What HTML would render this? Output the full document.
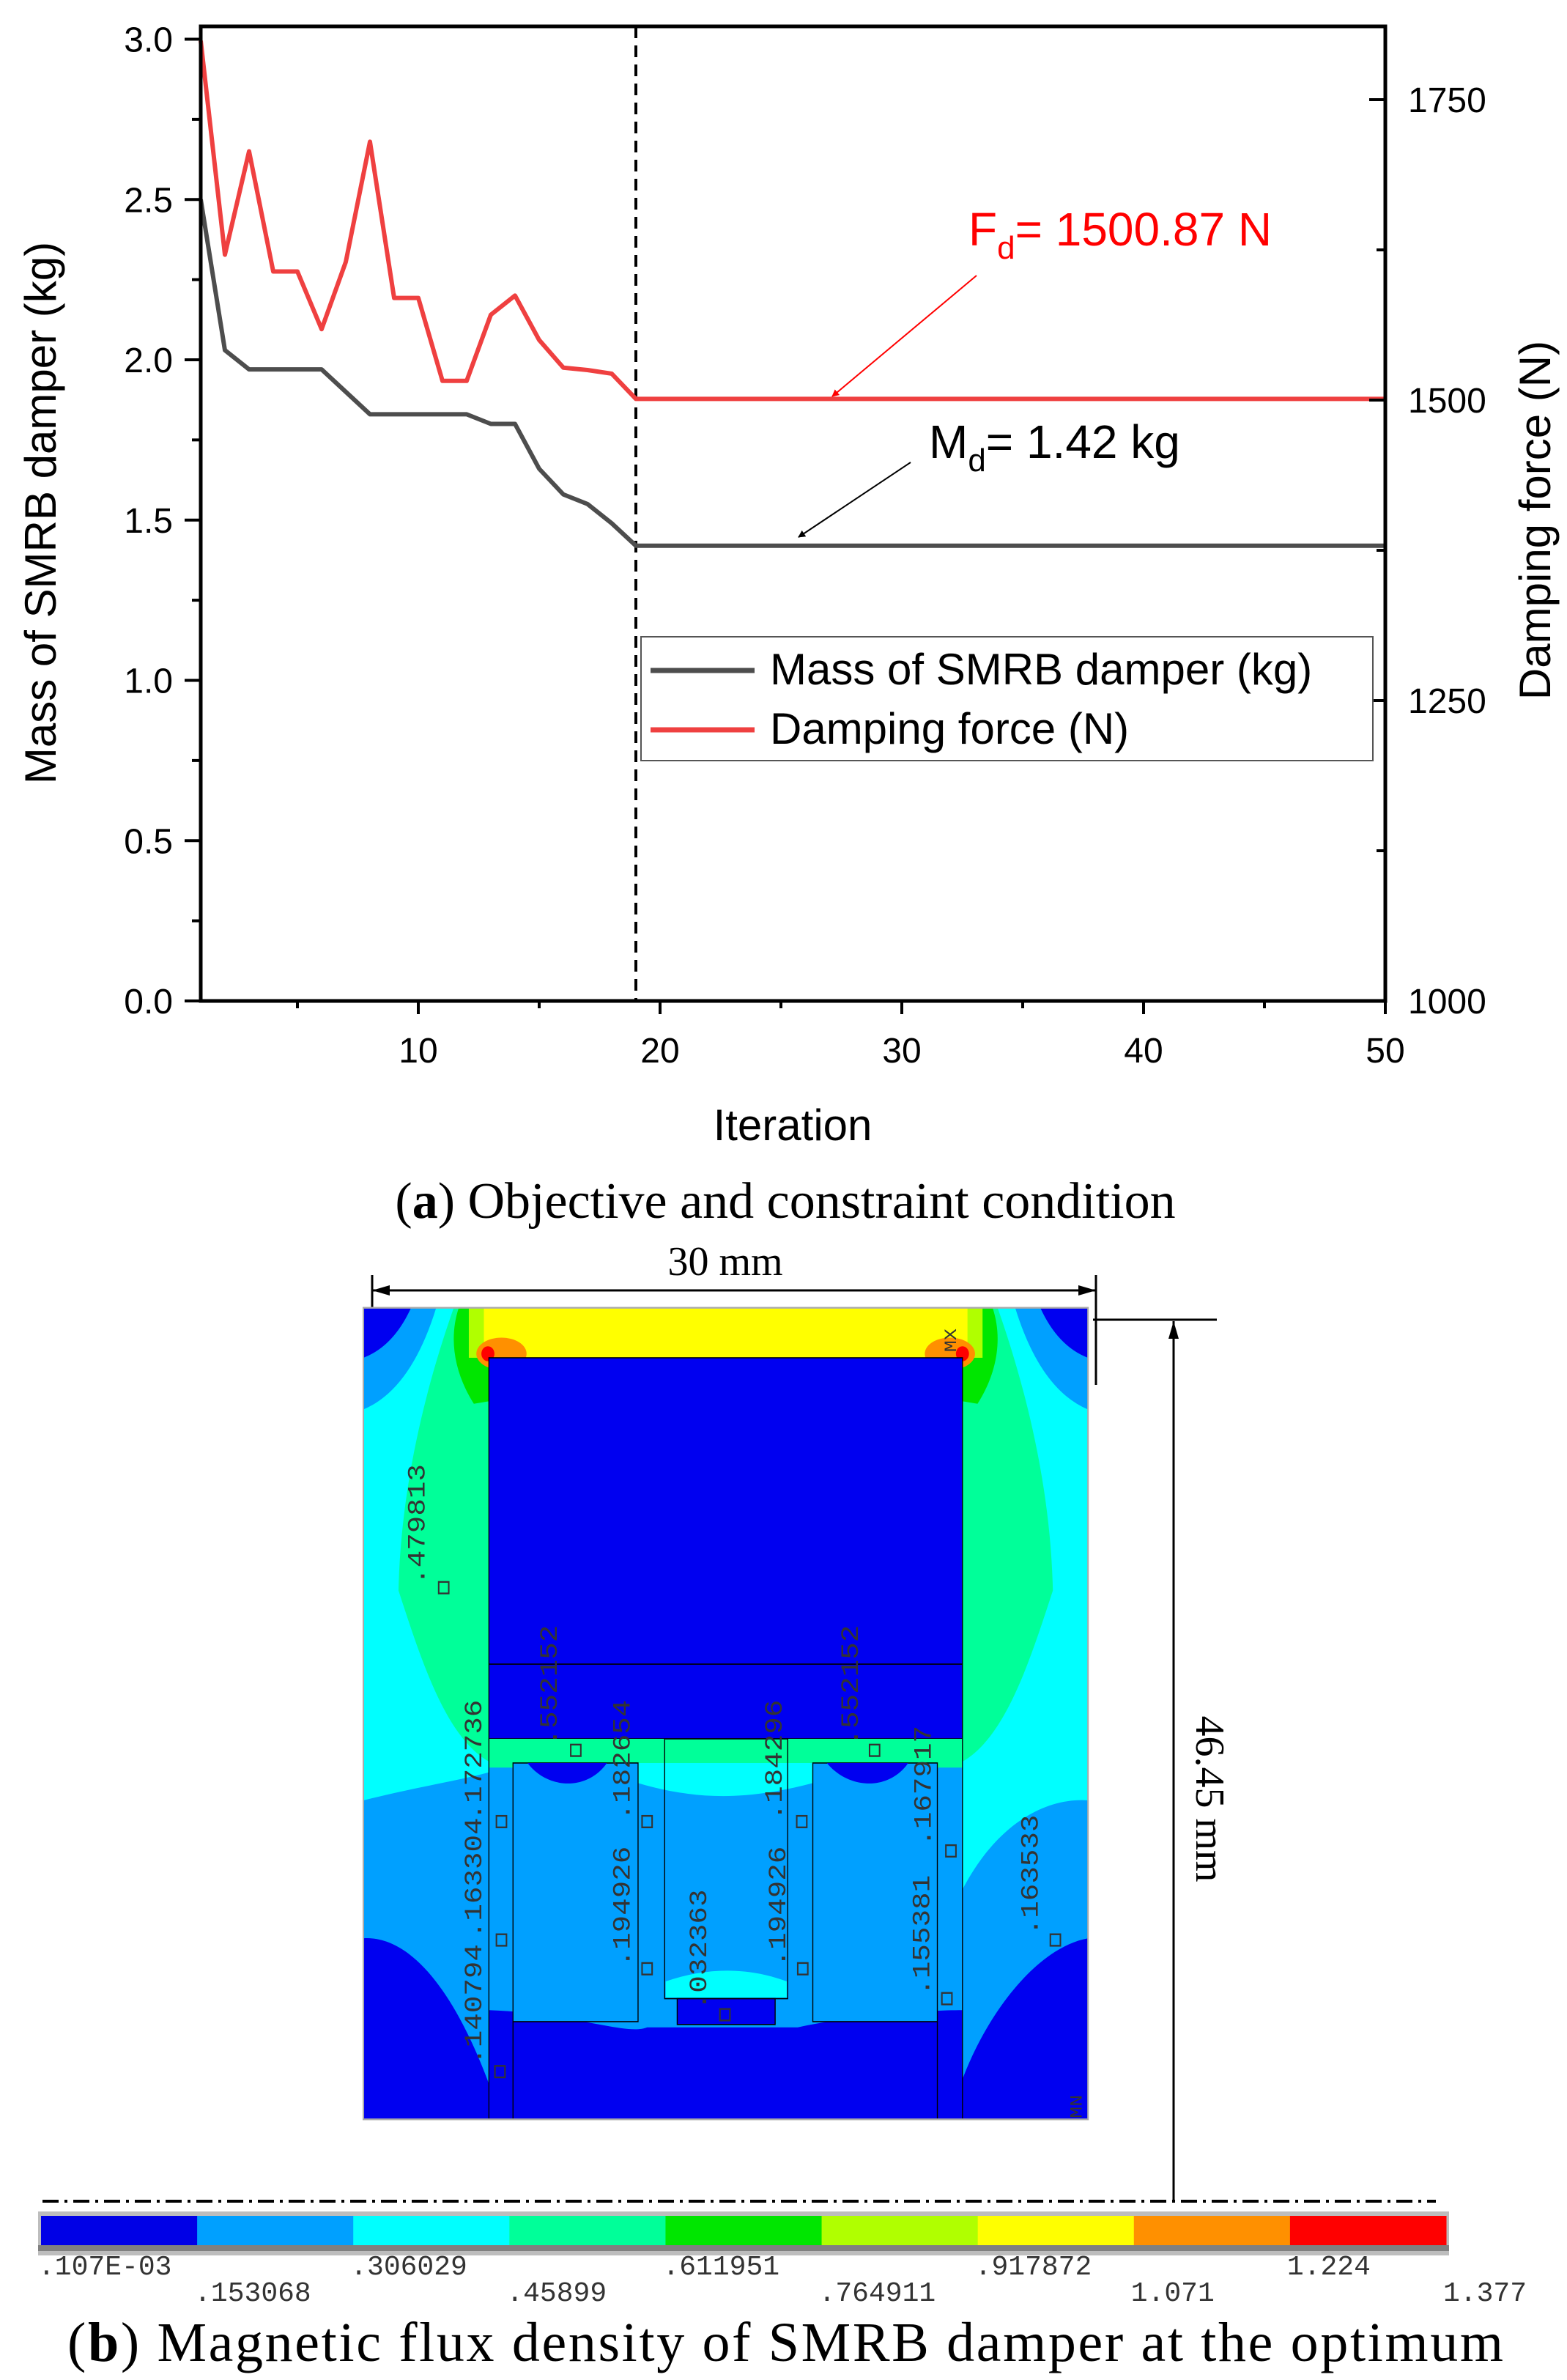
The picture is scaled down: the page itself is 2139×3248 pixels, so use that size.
<!DOCTYPE html>
<html><head><meta charset="utf-8"><style>
html,body{margin:0;padding:0;background:#fff;}
svg{display:block;}
.sans{font-family:"Liberation Sans",sans-serif;}
.serif{font-family:"Liberation Serif",serif;}
.mono{font-family:"Liberation Mono",monospace;}
</style></head><body>
<svg id="fig" width="2139" height="3248" viewBox="0 0 2139 3248" xmlns="http://www.w3.org/2000/svg">
<defs>
<marker id="arrR" markerWidth="10" markerHeight="10" refX="9" refY="5" orient="auto" markerUnits="userSpaceOnUse" viewBox="0 0 10 10"><path d="M0,0 L10,5 L0,10 z" fill="#ff0000"/></marker>
<marker id="arrK" markerWidth="10" markerHeight="10" refX="9" refY="5" orient="auto" markerUnits="userSpaceOnUse" viewBox="0 0 10 10"><path d="M0,0 L10,5 L0,10 z" fill="#000"/></marker>
<marker id="arrDim" markerWidth="24" markerHeight="14" refX="24" refY="7" orient="auto" markerUnits="userSpaceOnUse" viewBox="0 0 24 14"><path d="M0,0 L24,7 L0,14 z" fill="#000"/></marker>
<clipPath id="fieldClip"><rect x="35" y="108" width="1443" height="1412"/></clipPath>
</defs>

<g id="chart"></g>

<!-- Legend -->
<g>
<rect x="875" y="869" width="999" height="169" fill="#fff" stroke="#555" stroke-width="2"/>
<g>
<line x1="888" y1="915" x2="1030" y2="915" stroke="#4d4d4d" stroke-width="7"/>
<text x="1051" y="934" class="sans" font-size="60">Mass of SMRB damper (kg)</text>
</g>
<g>
<line x1="888" y1="996" x2="1030" y2="996" stroke="#ef4040" stroke-width="7"/>
<text x="1051" y="1015" class="sans" font-size="60">Damping force (N)</text>
</g>
</g>

<!-- annotations -->
<g>
<text x="1322" y="335" class="sans" font-size="64" fill="#ff0000">F<tspan font-size="44" dy="18">d</tspan><tspan dy="-18">= 1500.87 N</tspan></text>
<line x1="1333" y1="376" x2="1136" y2="541" stroke="#ff0000" stroke-width="2" marker-end="url(#arrR)"/>
</g>
<g>
<text x="1268" y="625" class="sans" font-size="64" fill="#000">M<tspan font-size="44" dy="18">d</tspan><tspan dy="-18">= 1.42 kg</tspan></text>
<line x1="1243" y1="631" x2="1090" y2="733" stroke="#000" stroke-width="2" marker-end="url(#arrK)"/>
</g>

<text x="1072" y="1662" class="serif" font-size="70" text-anchor="middle">(<tspan font-weight="bold">a</tspan>) Objective and constraint condition</text>

<!-- Dimensions -->
<g>
<line x1="508" y1="1740" x2="508" y2="1890" stroke="#000" stroke-width="3"/>
<line x1="1496" y1="1740" x2="1496" y2="1890" stroke="#000" stroke-width="3"/>
<line x1="1000" y1="1761" x2="1496" y2="1761" stroke="#000" stroke-width="3" marker-end="url(#arrDim)"/>
<line x1="1000" y1="1761" x2="508" y2="1761" stroke="#000" stroke-width="3" marker-end="url(#arrDim)"/>
<text x="990" y="1740" class="serif" font-size="56" text-anchor="middle">30 mm</text>
</g>
<g>
<line x1="1492" y1="1801" x2="1661" y2="1801" stroke="#000" stroke-width="3"/>
<line x1="1602" y1="3004" x2="1602" y2="1803" stroke="#000" stroke-width="3" marker-end="url(#arrDim)"/>
<text x="0" y="0" class="serif" font-size="56" text-anchor="middle" transform="translate(1633,2455) rotate(90)">46.45 mm</text>
</g>
<line x1="58" y1="3004" x2="1960" y2="3004" stroke="#000" stroke-width="4" stroke-dasharray="22,8,4,8"/>

<!-- Flux density field -->
<g transform="translate(472,1700) scale(0.6855,0.7844)">
<g clip-path="url(#fieldClip)">
<rect x="35" y="108" width="1443" height="1412" fill="#00ffff"/>
<!-- corners -->
<path d="M35,108 L180,108 Q130,250 35,285 Z" fill="#00a0ff"/>
<path d="M35,108 L130,108 Q95,175 35,195 Z" fill="#0000f0"/>
<path d="M1478,108 L1333,108 Q1383,250 1478,285 Z" fill="#00a0ff"/>
<path d="M1478,108 L1383,108 Q1418,175 1478,195 Z" fill="#0000f0"/>
<!-- aquamarine regions -->
<path d="M215,108 L290,108 L290,900 C200,860 150,720 105,600 C110,400 170,220 215,108 Z" fill="#00ff99"/>
<path d="M1298,108 L1223,108 L1223,900 C1313,860 1363,720 1408,600 C1403,400 1343,220 1298,108 Z" fill="#00ff99"/>
<!-- green near corners -->
<path d="M225,108 L300,108 L290,270 L255,275 C215,220 205,160 225,108 Z" fill="#00e600"/>
<path d="M1288,108 L1213,108 L1223,270 L1258,275 C1298,220 1308,160 1288,108 Z" fill="#00e600"/>
<rect x="245" y="108" width="1023" height="87" fill="#b0ff00"/>
<rect x="275" y="108" width="963" height="87" fill="#ffff00"/>
<ellipse cx="310" cy="188" rx="50" ry="28" fill="#ff9000"/>
<ellipse cx="1203" cy="188" rx="50" ry="28" fill="#ff9000"/>
<circle cx="283" cy="188" r="13" fill="#ff0000"/>
<circle cx="1228" cy="188" r="13" fill="#ff0000"/>
<!-- lower sides -->
<path d="M35,965 C150,940 230,930 290,915 L290,1520 L35,1520 Z" fill="#00a0ff"/>
<path d="M35,1205 C130,1200 220,1300 290,1470 L290,1520 L35,1520 Z" fill="#0000f0"/>
<path d="M1478,965 C1400,960 1300,1000 1228,1120 L1228,1520 L1478,1520 Z" fill="#00a0ff"/>
<path d="M1478,1205 C1380,1220 1280,1330 1228,1450 L1228,1520 L1478,1520 Z" fill="#0000f0"/>
<!-- central block -->
<rect x="285" y="195" width="943" height="663" fill="#0000f0" stroke="#000" stroke-width="2"/>
<line x1="285" y1="728" x2="1228" y2="728" stroke="#000" stroke-width="2"/>
<!-- lower center -->
<rect x="285" y="858" width="943" height="662" fill="#00a0ff"/>
<rect x="285" y="858" width="943" height="50" fill="#00ff99"/>
<path d="M582,900 L930,900 L930,935 C800,965 700,965 582,935 Z" fill="#00ffff"/>
<path d="M285,1330 C450,1335 560,1375 600,1360 L900,1360 C1000,1340 1150,1330 1228,1330 L1228,1520 L285,1520 Z" fill="#0000f0"/>
<rect x="333" y="900" width="249" height="450" fill="#00a0ff" stroke="#000" stroke-width="2"/>
<path d="M362,900 C400,945 480,950 520,900 Z" fill="#0000f0"/>
<rect x="930" y="900" width="248" height="450" fill="#00a0ff" stroke="#000" stroke-width="2"/>
<path d="M958,900 C1000,945 1080,950 1120,900 Z" fill="#0000f0"/>
<rect x="635" y="858" width="245" height="452" fill="none" stroke="#000" stroke-width="2"/>
<path d="M637,1308 L637,1280 C720,1255 800,1255 878,1280 L878,1308 Z" fill="#00ffff"/>
<rect x="660" y="1310" width="195" height="45" fill="#0000f0" stroke="#000" stroke-width="2"/>
<line x1="285" y1="858" x2="285" y2="1520" stroke="#000" stroke-width="2"/>
<line x1="333" y1="1350" x2="333" y2="1520" stroke="#000" stroke-width="2"/>
<line x1="1178" y1="1350" x2="1178" y2="1520" stroke="#000" stroke-width="2"/>
<line x1="1228" y1="858" x2="1228" y2="1520" stroke="#000" stroke-width="2"/>
</g>
<rect x="35" y="108" width="1443" height="1412" fill="none" stroke="#aaa" stroke-width="3"/>
<g class="mono" font-size="50" fill="#333">
<text transform="translate(157,590) rotate(-90)">.479813</text>
<text transform="translate(420,870) rotate(-90)">.552152</text>
<text transform="translate(1020,870) rotate(-90)">.552152</text>
<text transform="translate(270,1000) rotate(-90)">.172736</text>
<text transform="translate(565,1000) rotate(-90)">.182654</text>
<text transform="translate(868,1000) rotate(-90)">.184296</text>
<text transform="translate(1165,1045) rotate(-90)">.167917</text>
<text transform="translate(270,1205) rotate(-90)">.163304</text>
<text transform="translate(565,1255) rotate(-90)">.194926</text>
<text transform="translate(875,1255) rotate(-90)">.194926</text>
<text transform="translate(718,1330) rotate(-90)">.032363</text>
<text transform="translate(1162,1305) rotate(-90)">.155381</text>
<text transform="translate(1378,1200) rotate(-90)">.163533</text>
<text transform="translate(270,1425) rotate(-90)">.140794</text>
<text transform="translate(1215,185) rotate(-90)" font-size="34">MX</text>
<text transform="translate(1465,1518) rotate(-90)" font-size="34">MN</text>
</g>
<g fill="none" stroke="#333" stroke-width="3">
<rect x="185" y="585" width="20" height="20"/><rect x="448" y="868" width="20" height="20"/>
<rect x="1043" y="868" width="20" height="20"/><rect x="300" y="992" width="20" height="20"/>
<rect x="590" y="992" width="20" height="20"/><rect x="898" y="992" width="20" height="20"/>
<rect x="1195" y="1043" width="20" height="20"/><rect x="300" y="1198" width="20" height="20"/>
<rect x="590" y="1248" width="20" height="20"/><rect x="900" y="1248" width="20" height="20"/>
<rect x="745" y="1328" width="20" height="20"/><rect x="1187" y="1300" width="20" height="20"/>
<rect x="1403" y="1198" width="20" height="20"/><rect x="297" y="1427" width="20" height="20"/>
</g>
</g>

<g id="colorbar"></g>

<text x="1072" y="3222" class="serif" font-size="76" text-anchor="middle" textLength="1960">(<tspan font-weight="bold">b</tspan>) Magnetic flux density of SMRB damper at the optimum</text>
</svg>

<script>
// ---- Chart data ----
const iterations = [1,2,3,4,5,6,7,8,9,10,11,12,13,14,15,16,17,18,19,20,25,30,35,40,45,50];
const massValues = [2.50,2.03,1.97,1.97,1.97,1.97,1.90,1.83,1.83,1.83,1.83,1.83,1.80,1.80,1.66,1.58,1.55,1.49,1.42,1.42,1.42,1.42,1.42,1.42,1.42,1.42];
const forceValues = [1799,1621,1707,1607,1607,1559,1615,1715,1585,1585,1516,1516,1571,1587,1550,1527,1525,1522,1501,1501,1501,1501,1501,1501,1501,1501];
const xTicks = [10,20,30,40,50];
const leftTicks = [0,0.5,1.0,1.5,2.0,2.5,3.0];
const leftTickLabels = ["0.0","0.5","1.0","1.5","2.0","2.5","3.0"];
const rightTicks = [1000,1250,1500,1750];
const optimumIteration = 19;
// ---- Colorbar data ----
const cbColors = ["#0000e6","#00a0ff","#00ffff","#00ff99","#00e600","#b0ff00","#ffff00","#ff9000","#ff0000"];
const cbLabels = [".107E-03",".153068",".306029",".45899",".611951",".764911",".917872","1.071","1.224","1.377"];

const NS = "http://www.w3.org/2000/svg";
const PL = 274, PR = 1891, PT = 36, PB = 1366;
const X0 = 1, X1 = 50, LY0 = 0, LY1 = 3.04, RY0 = 1000, RY1 = 1811;
const sx = v => PL + (v - X0) / (X1 - X0) * (PR - PL);
const syL = v => PB - (v - LY0) / (LY1 - LY0) * (PB - PT);
const syR = v => PB - (v - RY0) / (RY1 - RY0) * (PB - PT);

function mk(tag, attrs, parent) {
  const e = document.createElementNS(NS, tag);
  for (const k in attrs) e.setAttribute(k, attrs[k]);
  parent.appendChild(e);
  return e;
}
const chart = document.getElementById('chart');

// dashed optimum line
const dl = mk('line', {x1: sx(optimumIteration), x2: sx(optimumIteration), y1: PT, y2: PB, stroke: '#000', 'stroke-width': 4, 'stroke-dasharray': '16,10'}, chart);



// series
const massPts = iterations.map((x, i) => sx(x) + ',' + syL(massValues[i])).join(' ');
const ml = mk('polyline', {points: massPts, fill: 'none', stroke: '#4d4d4d', 'stroke-width': 6, 'stroke-linejoin': 'round'}, chart);


const forcePts = iterations.map((x, i) => sx(x) + ',' + syR(forceValues[i])).join(' ');
const fl = mk('polyline', {points: forcePts, fill: 'none', stroke: '#ef4040', 'stroke-width': 6, 'stroke-linejoin': 'round'}, chart);



// frame
const fr = mk('rect', {x: PL, y: PT, width: PR - PL, height: PB - PT, fill: 'none', stroke: '#000', 'stroke-width': 5}, chart);



// x ticks
for (let v = 5; v <= 50; v += 5) {
  const major = v % 10 === 0;
  const t = mk('line', {x1: sx(v), x2: sx(v), y1: PB, y2: PB + (major ? 18 : 10), stroke: '#000', 'stroke-width': 4}, chart);
  
  
}
xTicks.forEach(v => {
  const t = mk('text', {x: sx(v), y: PB + 84, 'text-anchor': 'middle', 'font-size': 48, 'class': 'sans'}, chart);
  t.textContent = v;
  
  
});
// left ticks
for (let v = 0; v <= 3.0001; v += 0.25) {
  const major = Math.abs(v * 2 - Math.round(v * 2)) < 1e-6;
  const t = mk('line', {x1: PL - (major ? 22 : 12), x2: PL, y1: syL(v), y2: syL(v), stroke: '#000', 'stroke-width': 4}, chart);
  
  
}
leftTicks.forEach((v, i) => {
  const t = mk('text', {x: 236, y: syL(v) + 17, 'text-anchor': 'end', 'font-size': 48, 'class': 'sans'}, chart);
  t.textContent = leftTickLabels[i];
  
  
});
// right ticks (inward)
for (let v = 1000; v <= 1800; v += 125) {
  const major = v % 250 === 0;
  const t = mk('line', {x1: PR - (major ? 22 : 12), x2: PR, y1: syR(v), y2: syR(v), stroke: '#000', 'stroke-width': 4}, chart);
  
  
}
rightTicks.forEach(v => {
  const t = mk('text', {x: 1922, y: syR(v) + 17, 'font-size': 48, 'class': 'sans'}, chart);
  t.textContent = v;
  
  
});
// axis titles
const xt = mk('text', {x: 1082, y: 1556, 'text-anchor': 'middle', 'font-size': 60, 'class': 'sans'}, chart);
xt.textContent = 'Iteration';


const lt = mk('text', {x: 0, y: 0, 'text-anchor': 'middle', 'font-size': 60, 'class': 'sans', transform: 'translate(76,700) rotate(-90)'}, chart);
lt.textContent = 'Mass of SMRB damper (kg)';


const rt = mk('text', {x: 0, y: 0, 'text-anchor': 'middle', 'font-size': 60, 'class': 'sans', transform: 'translate(2116,710) rotate(-90)'}, chart);
rt.textContent = 'Damping force (N)';



// colorbar
const cb = document.getElementById('colorbar');
const CBL = 56, CBR = 1974, CBT = 3024, CBB = 3072;
const segW = (CBR - CBL) / cbColors.length;
mk('rect', {x: CBL - 4, y: CBT - 6, width: CBR - CBL + 8, height: CBB - CBT + 12, fill: '#bdbdbd'}, cb);
cbColors.forEach((c, i) => {
  const r = mk('rect', {x: CBL + i * segW, y: CBT, width: segW + 0.5, height: CBB - CBT - 8, fill: c}, cb);
  
  
});
mk('rect', {x: CBL - 4, y: CBB - 8, width: CBR - CBL + 8, height: 8, fill: '#808080'}, cb);
cbLabels.forEach((l, i) => {
  const t = mk('text', {x: CBL + i * segW - 4, y: i % 2 === 0 ? 3104 : 3140, 'font-size': 38, 'class': 'mono', fill: '#333'}, cb);
  t.textContent = l;
  
  
});
</script>
</body></html>
